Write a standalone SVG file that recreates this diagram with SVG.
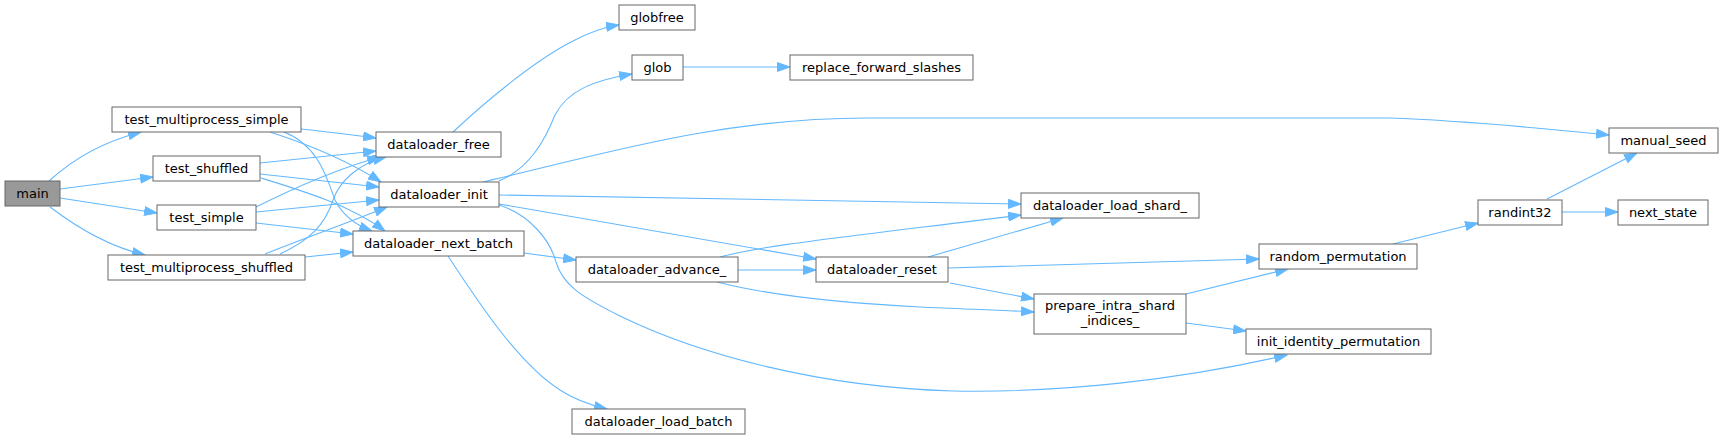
<svg xmlns="http://www.w3.org/2000/svg" width="1728" height="440" viewBox="0 0 1728 440">
<style>
.n rect{fill:#ffffff;stroke:#666666;stroke-width:1}
.root rect{fill:#999999;stroke:#666666;stroke-width:1}
text{font-family:"DejaVu Sans","Liberation Sans",sans-serif;font-size:13px;fill:#000000;text-anchor:middle}
.e path{fill:none;stroke:#63b8ff;stroke-width:1.1;marker-end:url(#ah)}
</style>
<defs>
<marker id="ah" markerUnits="userSpaceOnUse" markerWidth="14" markerHeight="10" refX="13" refY="5" orient="auto" viewBox="0 0 14 10">
<path d="M0.5,0.6 L13,5 L0.5,9.4 z" fill="#63b8ff" stroke="#63b8ff" stroke-width="1"/>
</marker>
</defs>
<rect x="0" y="0" width="1728" height="440" fill="#ffffff"/>
<g id="edges" class="e">
<path d="M49,181 C72,160 102,142 141,132"/>
<path d="M60,189 L153,177"/>
<path d="M60,198 L157,213"/>
<path d="M50,207 C75,226 106,246 145,255"/>
<path d="M301,129 C330,132 352,135 376,138"/>
<path d="M270,132 C310,145 350,162 381,182"/>
<path d="M284,132 C318,145 327,178 335,200 C344,218 358,226 372,231"/>
<path d="M260,163 L376,151"/>
<path d="M260,174 L379,187"/>
<path d="M261,178 C300,190 350,205 385,231"/>
<path d="M256,207 C290,190 340,168 380,157"/>
<path d="M256,212 L379,200"/>
<path d="M256,223 L353,234"/>
<path d="M280,254 C310,240 325,225 333,200 C340,180 360,163 386,157"/>
<path d="M265,254 C300,240 350,222 387,207"/>
<path d="M305,257 L353,252"/>
<path d="M453,132 C485,102 535,60 573,41 C590,32 605,27 619,25"/>
<path d="M499,181 C530,168 545,140 555,115 C568,90 595,80 632,74"/>
<path d="M683,67 L790,67"/>
<path d="M483,182 C600,155 720,118 866,118 L1390,118 C1450,120 1530,127 1609,135"/>
<path d="M499,195 C700,198 870,202 1021,204"/>
<path d="M499,204 L816,259"/>
<path d="M499,205 C530,215 550,240 556,262 C563,285 580,296 620,316 C700,355 820,387 953,391 C1060,393 1180,380 1287,355"/>
<path d="M524,253 L576,260"/>
<path d="M448,256 C480,305 520,365 560,390 C575,400 590,405 607,409"/>
<path d="M720,257 C760,246 820,240 1021,215"/>
<path d="M738,270 L816,270"/>
<path d="M717,282 C760,293 820,302 920,307 C960,309 1000,310 1034,312"/>
<path d="M928,257 L1063,218"/>
<path d="M948,268 C1050,265 1150,262 1259,259"/>
<path d="M950,283 L1034,299"/>
<path d="M1186,294 L1288,269"/>
<path d="M1186,323 L1246,331"/>
<path d="M1393,244 L1478,223"/>
<path d="M1547,199 L1637,153"/>
<path d="M1562,212 L1618,212"/>
</g>
<g id="main" class="root"><rect x="5" y="181" width="55" height="25"/><text x="32.5" y="198">main</text></g>
<g id="test_multiprocess_simple" class="n"><rect x="112" y="107" width="189" height="25"/><text x="206.5" y="124">test_multiprocess_simple</text></g>
<g id="test_shuffled" class="n"><rect x="153" y="156" width="107" height="25"/><text x="206.5" y="173">test_shuffled</text></g>
<g id="test_simple" class="n"><rect x="157" y="205" width="99" height="25"/><text x="206.5" y="222">test_simple</text></g>
<g id="test_multiprocess_shuffled" class="n"><rect x="108" y="255" width="197" height="25"/><text x="206.5" y="272">test_multiprocess_shuffled</text></g>
<g id="dataloader_free" class="n"><rect x="376" y="132" width="125" height="25"/><text x="438.5" y="149">dataloader_free</text></g>
<g id="dataloader_init" class="n"><rect x="379" y="182" width="120" height="25"/><text x="439" y="199">dataloader_init</text></g>
<g id="dataloader_next_batch" class="n"><rect x="353" y="231" width="171" height="25"/><text x="438.5" y="248">dataloader_next_batch</text></g>
<g id="globfree" class="n"><rect x="619" y="5" width="76" height="25"/><text x="657" y="22">globfree</text></g>
<g id="glob" class="n"><rect x="632" y="55" width="51" height="25"/><text x="657.5" y="72">glob</text></g>
<g id="replace_forward_slashes" class="n"><rect x="790" y="55" width="183" height="25"/><text x="881.5" y="72">replace_forward_slashes</text></g>
<g id="dataloader_advance_" class="n"><rect x="576" y="257" width="162" height="25"/><text x="657" y="274">dataloader_advance_</text></g>
<g id="dataloader_load_batch" class="n"><rect x="572" y="409" width="173" height="25"/><text x="658.5" y="426">dataloader_load_batch</text></g>
<g id="dataloader_load_shard_" class="n"><rect x="1021" y="193" width="178" height="25"/><text x="1110" y="210">dataloader_load_shard_</text></g>
<g id="dataloader_reset" class="n"><rect x="816" y="257" width="132" height="25"/><text x="882" y="274">dataloader_reset</text></g>
<g id="prepare_intra_shard_indices_" class="n"><rect x="1034" y="294" width="152" height="40"/><text x="1110" y="310">prepare_intra_shard</text><text x="1110" y="325">_indices_</text></g>
<g id="manual_seed" class="n"><rect x="1609" y="128" width="109" height="25"/><text x="1663.5" y="145">manual_seed</text></g>
<g id="randint32" class="n"><rect x="1478" y="200" width="84" height="25"/><text x="1520" y="217">randint32</text></g>
<g id="next_state" class="n"><rect x="1618" y="200" width="90" height="25"/><text x="1663" y="217">next_state</text></g>
<g id="random_permutation" class="n"><rect x="1259" y="244" width="158" height="25"/><text x="1338" y="261">random_permutation</text></g>
<g id="init_identity_permutation" class="n"><rect x="1246" y="329" width="185" height="25"/><text x="1338.5" y="346">init_identity_permutation</text></g>
</svg>
